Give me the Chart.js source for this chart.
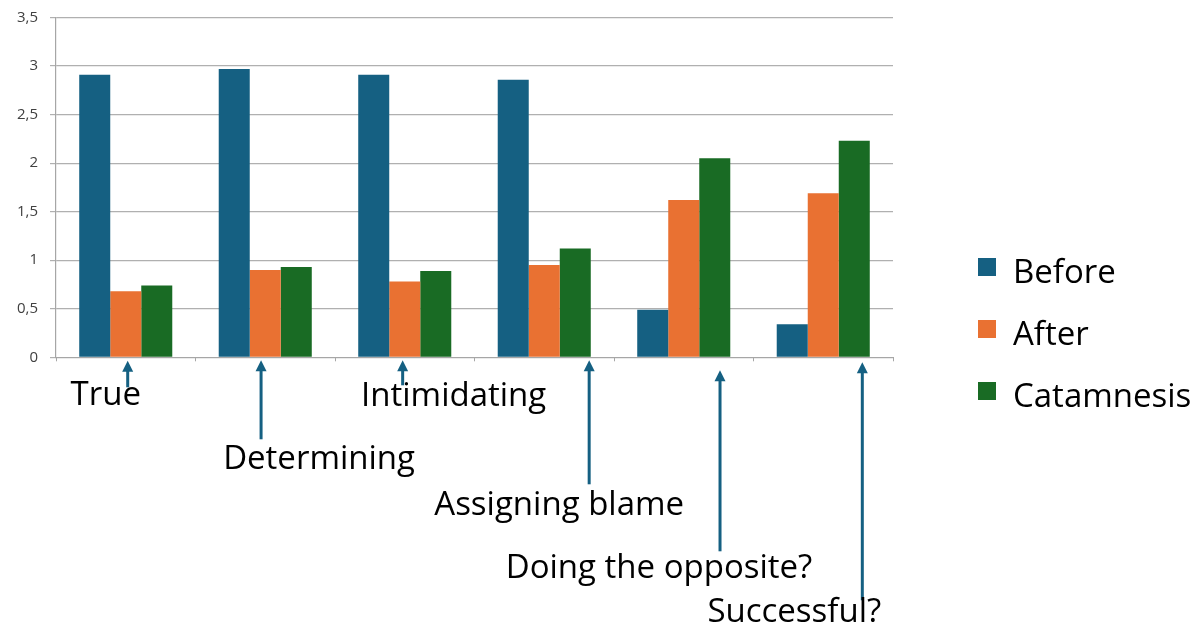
<!DOCTYPE html>
<html>
<head>
<meta charset="utf-8">
<script src="https://cdn.jsdelivr.net/npm/chart.js@4.4.1/dist/chart.umd.min.js"></script>
<style>
  html, body { margin: 0; padding: 0; background: #ffffff; }
  #wrap { width: 1203px; height: 628px; position: relative; }
</style>
</head>
<body>
<div id="wrap"><canvas id="c" width="1203" height="628"></canvas></div>
<script>
// Categories and series values
const categories = ['True', 'Determining', 'Intimidating', 'Assigning blame', 'Doing the opposite?', 'Successful?'];
const seriesNames = ['Before', 'After', 'Catamnesis'];
const before = [2.91, 2.97, 2.91, 2.86, 0.49, 0.34];
const after = [0.68, 0.90, 0.78, 0.95, 1.62, 1.69];
const catamnesis = [0.74, 0.93, 0.89, 1.12, 2.05, 2.23];
const yTicks = [0, 0.5, 1, 1.5, 2, 2.5, 3, 3.5];

// Styling
const seriesColors = ['#156082', '#E97132', '#196B24'];
const arrowColor = '#156082';
const labelFont = '33px "Open Sans", sans-serif';

// Callout layout for each category label: arrow shift (in category widths),
// arrow tip / tail offsets and text offsets (px, relative to the x axis).
const callouts = [
  { shift: 0.014, tip: 3.5, tail: 30, dx: -22, base: 48 },
  { shift: -0.03, tip: 3, tail: 82, dx: 58, base: 112 },
  { shift: -0.015, tip: 3, tail: 28, dx: 51, base: 48.5 },
  { shift: 0.322, tip: 3, tail: 127, dx: -30, base: 157.5 },
  { shift: 0.26, tip: 13, tail: 194, dx: -61, base: 221 },
  { shift: 0.28, tip: 5, tail: 243, dx: -68, base: 265 }
];

const calloutPlugin = {
  id: 'callouts',
  afterDraw(chart) {
    const ctx = chart.ctx;
    const xs = chart.scales.x;
    const area = chart.chartArea;
    const catW = (area.right - area.left) / categories.length;
    ctx.save();
    categories.forEach((name, i) => {
      const c = callouts[i];
      const ax = xs.getPixelForValue(i) + c.shift * catW;
      const tipY = area.bottom + c.tip;
      const tailY = area.bottom + c.tail;
      // shaft
      ctx.strokeStyle = arrowColor;
      ctx.lineWidth = 3;
      ctx.beginPath();
      ctx.moveTo(ax, tipY + 8);
      ctx.lineTo(ax, tailY);
      ctx.stroke();
      // head
      ctx.fillStyle = arrowColor;
      ctx.beginPath();
      ctx.moveTo(ax, tipY);
      ctx.lineTo(ax - 5.5, tipY + 11);
      ctx.lineTo(ax + 5.5, tipY + 11);
      ctx.closePath();
      ctx.fill();
      // text
      ctx.fillStyle = '#000000';
      ctx.font = labelFont;
      ctx.textAlign = 'center';
      ctx.textBaseline = 'alphabetic';
      ctx.fillText(name, ax + c.dx, area.bottom + c.base);
    });

    // legend
    const lx = area.right + 85;
    const baselines = [283, 345, 407];
    seriesNames.forEach((name, i) => {
      const b = baselines[i];
      ctx.fillStyle = seriesColors[i];
      ctx.fillRect(lx, b - 25, 18, 18);
      ctx.fillStyle = '#000000';
      ctx.font = labelFont;
      ctx.textAlign = 'left';
      ctx.textBaseline = 'alphabetic';
      ctx.fillText(name, lx + 35, b);
    });
    ctx.restore();
  }
};

new Chart(document.getElementById('c').getContext('2d'), {
  type: 'bar',
  data: {
    labels: categories,
    datasets: [
      { label: seriesNames[0], data: before, backgroundColor: seriesColors[0] },
      { label: seriesNames[1], data: after, backgroundColor: seriesColors[1] },
      { label: seriesNames[2], data: catamnesis, backgroundColor: seriesColors[2] }
    ]
  },
  options: {
    responsive: false,
    animation: false,
    layout: { padding: { left: 0, top: 17.5, right: 310, bottom: 265.7 } },
    datasets: { bar: { categoryPercentage: 0.667, barPercentage: 1 } },
    plugins: { legend: { display: false }, tooltip: { enabled: false } },
    scales: {
      x: {
        grid: { drawOnChartArea: false, drawTicks: true, tickLength: 4, color: '#a6a6a6', offset: true },
        border: { color: '#a6a6a6', width: 1 },
        ticks: { display: false },
        afterFit(s) { s.height = 5; }
      },
      y: {
        min: 0,
        max: 3.5,
        afterBuildTicks(s) { s.ticks = yTicks.map(v => ({ value: v })); },
        ticks: {
          callback: v => String(v).replace('.', ','),
          font: { family: '"Open Sans", sans-serif', size: 15 },
          color: '#404040',
          padding: 12
        },
        grid: { color: '#b0b0b0', tickLength: 6, lineWidth: 1.2 },
        border: { color: '#a6a6a6', width: 1.2 },
        afterFit(s) {
          s.width = 56;
          // the top label fits inside the outer padding, so no extra room is reserved
          s.paddingTop = 0;
          s.paddingBottom = 0;
        }
      }
    }
  },
  plugins: [calloutPlugin]
});
</script>
</body>
</html>
